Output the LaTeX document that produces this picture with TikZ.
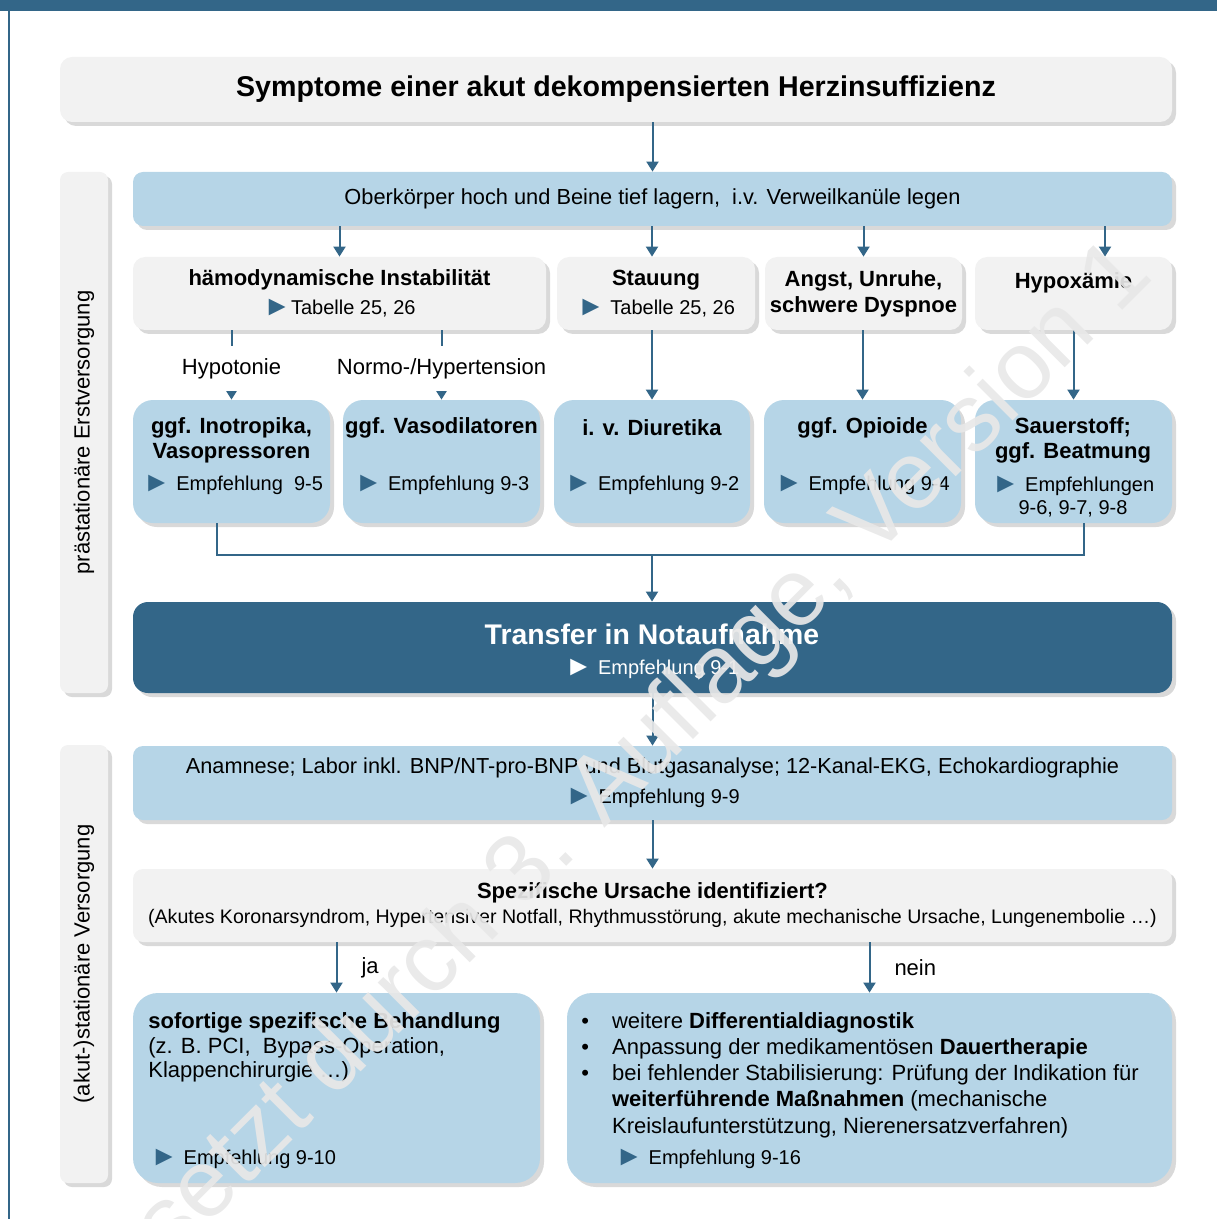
\documentclass[tikz,border=0pt]{standalone}
\usepackage{fontspec}
\setmainfont{Liberation Sans}
\usetikzlibrary{shadows,arrows.meta}
\definecolor{nvl_blue}  {HTML} {336688}
\definecolor{nvl_pale}  {HTML} {B6D5E7}
\definecolor{nvl_grey}  {HTML} {F2F2F2}
\newcommand{\tri}[1][nvl_blue]{{\color{#1}\raisebox{-0.6pt}{\scalebox{1.4}{►}}}}

\begin{document}
\begin{tikzpicture}[x=0.5pt,y=-0.5pt,
  shade_it/.style={drop shadow={shadow xshift=2pt,shadow yshift=-2pt,opacity=.3}},
  greybox/.style={fill=nvl_grey,rounded corners=6pt,inner sep=0pt,align=center,shade_it},
  bluebox/.style={fill=nvl_pale,rounded corners=10pt,inner sep=0pt,align=center,shade_it},
  flow/.style={nvl_blue,line width=1pt,-{Triangle[width=6pt,length=5pt]}},
  txt/.style={inner sep=0pt,align=center,text=black,font=\fontsize{11}{12.5}\selectfont},
  ref/.style={inner sep=0pt,align=center,font=\fontsize{10}{11.5}\selectfont}]
\useasboundingbox (0,0) rectangle (1217,1219);
\fill[nvl_blue] (0,0) rectangle (1217,11);
\draw[nvl_blue,line width=1.2pt] (9,0) -- (9,1219);

\node[greybox,minimum width=556pt,minimum height=32.5pt,font=\fontsize{14.3}{16}\selectfont\bfseries] (symptome) at (616,89.5) {Symptome einer akut dekompensierten Herzinsuffizienz};

\node[greybox,rounded corners=4pt,minimum width=24pt,minimum height=260.5pt] (pre) at (84,432.5) {};
\node[txt,rotate=90] (preT) at (pre) {prästationäre Erstversorgung};
\node[greybox,rounded corners=4pt,minimum width=24pt,minimum height=219pt] (stat) at (84,964) {};
\node[txt,rotate=90] (statT) at (stat) {(akut-)stationäre Versorgung};

\node[bluebox,rounded corners=5pt,minimum width=519.5pt,minimum height=27pt,font=\fontsize{10.9}{13}\selectfont] (lagern) at (652.5,199) {Oberkörper hoch und Beine tief lagern,\ \ i.v. Verweilkanüle legen};

\node[greybox,minimum width=206.5pt,minimum height=36.5pt,font=\fontsize{11}{14.5}\selectfont] (instab) at (339.5,293.5) {\textbf{hämodynamische Instabilität}\\{\fontsize{10}{14.5}\selectfont\tri Tabelle 25, 26}};
\node[greybox,minimum width=99pt,minimum height=36.5pt,font=\fontsize{11}{14.5}\selectfont] (stauung) at (656,293.5) {\textbf{Stauung}\\{\fontsize{10}{14.5}\selectfont\tri\ Tabelle 25, 26}};
\node[greybox,minimum width=98.5pt,minimum height=36.5pt,font=\fontsize{11}{13}\selectfont\bfseries] (angst) at (863.5,293.5) {Angst, Unruhe,\\schwere Dyspnoe};
\node[greybox,minimum width=98.5pt,minimum height=36.5pt,font=\fontsize{11}{13}\selectfont\bfseries] (hypox) at (1073.5,293.5) {Hypoxämie\\\mbox{}};

\node[bluebox,minimum width=98.5pt,minimum height=61.5pt] (inotrop) at (231.5,461.5) {};
\node[bluebox,minimum width=98.5pt,minimum height=61.5pt] (vasodil) at (441.5,461.5) {};
\node[bluebox,minimum width=98pt,minimum height=61.5pt] (diuret) at (652,461.5) {};
\node[bluebox,minimum width=98.5pt,minimum height=61.5pt] (opioid) at (862.5,461.5) {};
\node[bluebox,minimum width=98.5pt,minimum height=61.5pt] (sauer) at (1073.5,461.5) {};

\node[txt,font=\fontsize{11}{12.5}\selectfont\bfseries] (inotropT) at (231.5,440.5) {ggf. Inotropika,\\Vasopressoren};
\node[ref] (inotropR) at (233,485) {\tri\ Empfehlung\ \ 9-5};
\node[txt,font=\fontsize{11}{12.5}\selectfont\bfseries] (vasodilT) at (441.5,428) {ggf. Vasodilatoren};
\node[ref] (vasodilR) at (442,485) {\tri\ Empfehlung 9-3};
\node[txt,font=\fontsize{11}{12.5}\selectfont\bfseries] (diuretT) at (652,428) {i. v. Diuretika};
\node[ref] (diuretR) at (652,485) {\tri\ Empfehlung 9-2};
\node[txt,font=\fontsize{11}{12.5}\selectfont\bfseries] (opioidT) at (862.5,428) {ggf. Opioide};
\node[ref] (opioidR) at (862.5,485) {\tri\ Empfehlung 9-4};
\node[txt,font=\fontsize{11}{12.5}\selectfont\bfseries] (sauerT) at (1073,440.5) {Sauerstoff;\\ggf. Beatmung};
\node[ref] (sauerR) at (1073,496.5) {\tri\ Empfehlungen\\9-6, 9-7, 9-8};

\node[fill=nvl_blue,rounded corners=7.5pt,shade_it,minimum width=519.5pt,minimum height=45.5pt] (transfer) at (652.5,647.5) {};
\node[txt,text=white,font=\fontsize{14.2}{16}\selectfont\bfseries] (transferT) at (652,634) {Transfer in Notaufnahme};
\node[ref,text=white] (transferR) at (652,669) {\tri[white]\ Empfehlung 9-1};

\node[bluebox,rounded corners=5pt,minimum width=519.5pt,minimum height=37pt,font=\fontsize{10.85}{15}\selectfont] (diagnostik) at (652.5,783) {Anamnese; Labor inkl. BNP/NT-pro-BNP und Blutgasanalyse; 12-Kanal-EKG, Echokardiographie\\{\fontsize{10}{15}\selectfont\tri\ Empfehlung 9-9}};

\node[greybox,rounded corners=5pt,minimum width=519.5pt,minimum height=36.5pt,font=\fontsize{11}{12.5}\selectfont] (ursache) at (652.5,905.5) {\textbf{Spezifische Ursache identifiziert?}\\{\fontsize{9.8}{12.5}\selectfont(Akutes Koronarsyndrom, Hypertensiver Notfall, Rhythmusstörung, akute mechanische Ursache, Lungenembolie …)}};

\node[bluebox,rounded corners=12.5pt,minimum width=203.5pt,minimum height=95pt] (ja) at (336.5,1088) {};
\node[bluebox,rounded corners=12.5pt,minimum width=302.5pt,minimum height=95pt] (nein) at (869.5,1088) {};
\node[txt,anchor=west,align=left,font=\fontsize{11}{12.25}\selectfont] (jaT) at (148,1047.5) {\textbf{sofortige spezifische Behandlung}\\(z. B. PCI,\ \ Bypass-Operation,\\Klappenchirurgie …)};
\node[ref,anchor=west] (jaR) at (150,1159) {\tri\ Empfehlung 9-10};
\node[txt,anchor=west,align=left,font=\fontsize{11}{13.1}\selectfont] (neinT) at (581,1075.5) {\begin{tabular}{@{}l@{\hspace{11.5pt}}l@{}}
\textbullet & weitere \textbf{Differentialdiagnostik}\\
\textbullet & Anpassung der medikamentösen \textbf{Dauertherapie}\\
\textbullet & bei fehlender Stabilisierung: Prüfung der Indikation für\\
 & \textbf{weiterführende Maßnahmen} (mechanische\\
 & Kreislaufunterstützung, Nierenersatzverfahren)
\end{tabular}};
\node[ref,anchor=west] (neinR) at (615,1159) {\tri\ Empfehlung 9-16};

\draw[flow] (symptome.south -| lagern.north) -- (lagern.north);
\draw[flow] (lagern.south -| instab.north) -- (instab.north);
\draw[flow] (lagern.south -| diuret.north) -- (diuret.north |- stauung.north);
\draw[flow] (lagern.south -| angst.north) -- (angst.north);
\draw[flow] ([xshift=15.75pt]hypox.north |- lagern.south) -- ([xshift=15.75pt]hypox.north);
\draw[flow] (instab.south -| inotrop.north) -- node[txt,pos=.55,fill=white,inner xsep=2pt,inner ysep=6pt] (hypotonie) {Hypotonie} (inotrop.north);
\draw[flow] (instab.south -| vasodil.north) -- node[txt,pos=.55,fill=white,inner xsep=2pt,inner ysep=6pt] (normoton) {Normo-/Hypertension} (vasodil.north);
\draw[flow] (stauung.south -| diuret.north) -- (diuret.north);
\draw[flow] (angst.south -| opioid.north) -- (opioid.north);
\draw[flow] (hypox.south -| sauer.north) -- (sauer.north);
\coordinate (merge) at (652,555);
\draw[nvl_blue,line width=1pt] ([xshift=-7.25pt]inotrop.south) |- (merge) -| ([xshift=5.25pt]sauer.south);
\draw[flow] (merge) -- (merge |- transfer.north);
\draw[flow] (transfer.south) -- (diagnostik.north);
\draw[flow] (diagnostik.south) -- (ursache.north);
\draw[flow] (ursache.south -| ja.north) -- node[txt,right,xshift=12pt] (jaL) {ja} (ja.north);
\draw[flow] (ursache.south -| nein.north) -- node[txt,right,xshift=12pt] (neinL) {nein} (nein.north);

\node[rotate=45,text=black!9,opacity=.92,font=\fontsize{48}{52}\selectfont] (stempel) at (612,786) {Ersetzt durch 3. Auflage, Version 1};
\end{tikzpicture}
\end{document}
